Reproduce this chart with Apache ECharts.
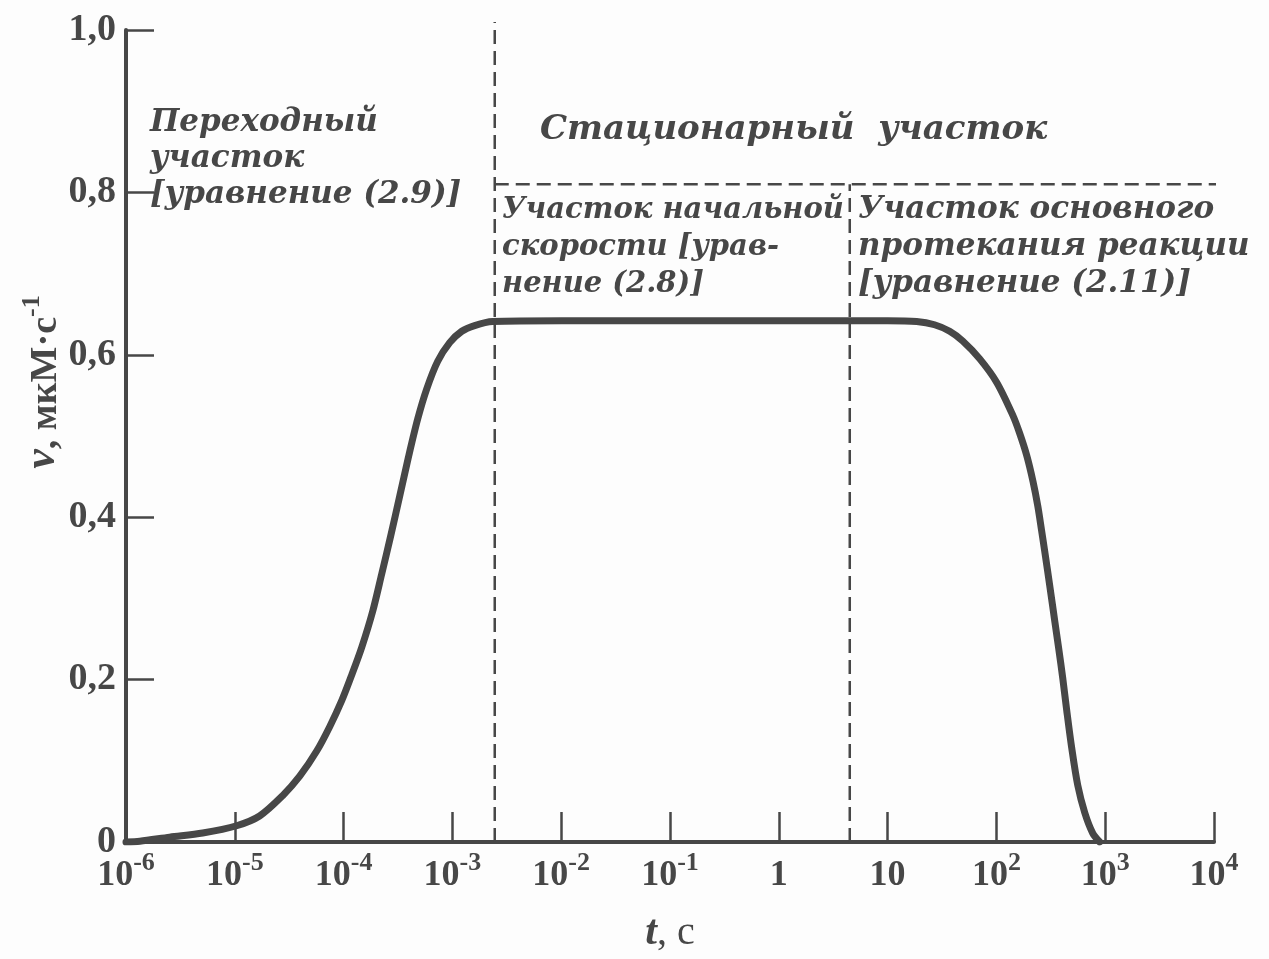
<!DOCTYPE html>
<html>
<head>
<meta charset="utf-8">
<script src="https://cdn.jsdelivr.net/npm/echarts@6/dist/echarts.min.js"></script>
<style>
  html, body { margin: 0; padding: 0; background: #fdfdfd; }
  #chart { width: 1269px; height: 959px; }
</style>
</head>
<body>
<div id="chart"></div>
<script>
// ---- data ----
const timeSec = [1.0e-6, 1.34e-6, 2.52e-6, 5.07e-6, 1.04e-5, 1.69e-5, 2.75e-5, 3.95e-5, 5.66e-5, 7.45e-5,
                 9.61e-5, 1.19e-4, 1.47e-4, 1.85e-4, 2.24e-4, 2.71e-4, 3.28e-4, 3.96e-4, 4.80e-4, 5.81e-4,
                 7.33e-4, 9.44e-4, 1.22e-3, 1.60e-3, 2.34e-3,
                 1e-2, 1e-1, 1, 10,
                 18.5, 27, 37.2, 49, 70.3, 100.7, 141, 163, 190, 217, 240, 260, 278, 309, 344, 374, 407, 443, 492, 559, 649, 767, 891];
const rate = [0.000, 0.001, 0.006, 0.011, 0.020, 0.032, 0.057, 0.081, 0.112, 0.142,
              0.174, 0.206, 0.240, 0.284, 0.330, 0.377, 0.426, 0.475, 0.521, 0.558,
              0.592, 0.615, 0.629, 0.636, 0.641,
              0.642, 0.642, 0.642, 0.642,
              0.641, 0.637, 0.629, 0.617, 0.595, 0.566, 0.526, 0.504, 0.476, 0.444, 0.414, 0.384, 0.358, 0.316, 0.272, 0.238, 0.202, 0.162, 0.116, 0.070, 0.036, 0.011, 0.000];

const xTickExponents = [-6, -5, -4, -3, -2, -1, 0, 1, 2, 3, 4];
const yTickLabels = ['0', '0,2', '0,4', '0,6', '0,8', '1,0'];

const boundaryTransient = 2.45e-3;   // end of transient phase
const boundaryMain = 4.49;           // end of initial-rate section
const stationaryLevel = 0.81;        // level of the horizontal dashed bracket
const bracketTop = 1.01;
const bracketEndT = 1.72e4;

const labelTransient = 'Переходный\nучасток\n[уравнение (2.9)]';
const labelStationary = 'Стационарный  участок';
const labelInitial = 'Участок начальной\nскорости [урав-\nнение (2.8)]';
const labelMain = 'Участок основного\nпротекания реакции\n[уравнение (2.11)]';

// ---- chart ----
const ink = '#474747';
const serif = 'Liberation Serif';
const textFont = 'DejaVu Serif';

const curve = timeSec.map((t, i) => [t, rate[i]]);

const chart = echarts.init(document.getElementById('chart'));
chart.setOption({
  backgroundColor: '#fdfdfd',
  animation: false,
  grid: { left: 126, right: 55, top: 30, bottom: 116 },
  xAxis: {
    type: 'log',
    logBase: 10,
    min: 1e-6,
    max: 1e4,
    interval: 1,
    name: '{i|t}{n|, c}',
    nameLocation: 'middle',
    nameGap: 70,
    nameTextStyle: {
      rich: {
        i: { fontFamily: serif, fontStyle: 'italic', fontWeight: 'bold', fontSize: 42, color: ink },
        n: { fontFamily: serif, fontSize: 40, color: ink }
      }
    },
    axisLine: { onZero: false, lineStyle: { color: ink, width: 4 } },
    axisTick: { inside: true, length: 30, lineStyle: { color: ink, width: 2.5 } },
    splitLine: { show: false },
    minorTick: { show: false },
    axisLabel: {
      margin: 8,
      color: ink,
      formatter: function (value) {
        const e = Math.round(Math.log10(value));
        if (xTickExponents.indexOf(e) < 0) return '';
        if (e === 0) return '{b|1}';
        if (e === 1) return '{b|10}';
        return '{b|10}{s|' + e + '}';
      },
      rich: {
        b: { fontFamily: serif, fontWeight: 'bold', fontSize: 36, color: ink, lineHeight: 44, verticalAlign: 'bottom' },
        s: { fontFamily: serif, fontWeight: 'bold', fontSize: 26, color: ink, lineHeight: 26, verticalAlign: 'top' }
      }
    }
  },
  yAxis: {
    type: 'value',
    min: 0,
    max: 1,
    interval: 0.2,
    axisLine: { show: true, lineStyle: { color: ink, width: 4 } },
    axisTick: { show: true, inside: true, length: 28, lineStyle: { color: ink, width: 2.5 } },
    splitLine: { show: false },
    axisLabel: {
      margin: 10,
      color: ink,
      fontFamily: serif,
      fontWeight: 'bold',
      fontSize: 38,
      formatter: function (value) { return yTickLabels[Math.round(value / 0.2)]; }
    }
  },
  graphic: [
    {
      type: 'text', rotation: Math.PI / 2, x: 42, y: 382,
      style: {
        text: '{i|v}{n|, мкМ·с}{s|-1}',
        align: 'center', verticalAlign: 'middle',
        rich: {
          i: { fontFamily: serif, fontStyle: 'italic', fontWeight: 'bold', fontSize: 44, fill: ink, lineHeight: 46, verticalAlign: 'bottom' },
          n: { fontFamily: serif, fontWeight: 'bold', fontSize: 38, fill: ink, lineHeight: 46, verticalAlign: 'bottom' },
          s: { fontFamily: serif, fontWeight: 'bold', fontSize: 26, fill: ink, lineHeight: 26, verticalAlign: 'top' }
        }
      }
    },
    {
      type: 'text', x: 150, y: 105,
      style: { text: labelTransient, font: 'bold italic 31px "' + textFont + '"', fill: ink, lineHeight: 36 }
    },
    {
      type: 'text', x: 540, y: 113,
      style: { text: labelStationary, font: 'bold italic 34px "' + textFont + '"', fill: ink }
    },
    {
      type: 'text', x: 502, y: 192,
      style: { text: labelInitial, font: 'bold italic 29px "' + textFont + '"', fill: ink, lineHeight: 37 }
    },
    {
      type: 'text', x: 858, y: 191,
      style: { text: labelMain, font: 'bold italic 31px "' + textFont + '"', fill: ink, lineHeight: 37 }
    }
  ],
  series: [
    {
      type: 'line',
      data: curve,
      showSymbol: false,
      smooth: 0.3,
      lineStyle: { color: ink, width: 7, cap: 'round', join: 'round' },
      z: 5
    },
    {
      type: 'line',
      data: [[boundaryTransient, 0], [boundaryTransient, bracketTop]],
      showSymbol: false, clip: false,
      lineStyle: { color: ink, width: 2.5, type: [14, 7] }
    },
    {
      type: 'line',
      data: [[boundaryMain, 0], [boundaryMain, stationaryLevel]],
      showSymbol: false, clip: false,
      lineStyle: { color: ink, width: 2.5, type: [14, 7] }
    },
    {
      type: 'line',
      data: [[boundaryTransient, stationaryLevel], [bracketEndT, stationaryLevel]],
      showSymbol: false, clip: false,
      lineStyle: { color: ink, width: 2.5, type: [14, 7] }
    }
  ]
});
</script>
</body>
</html>
